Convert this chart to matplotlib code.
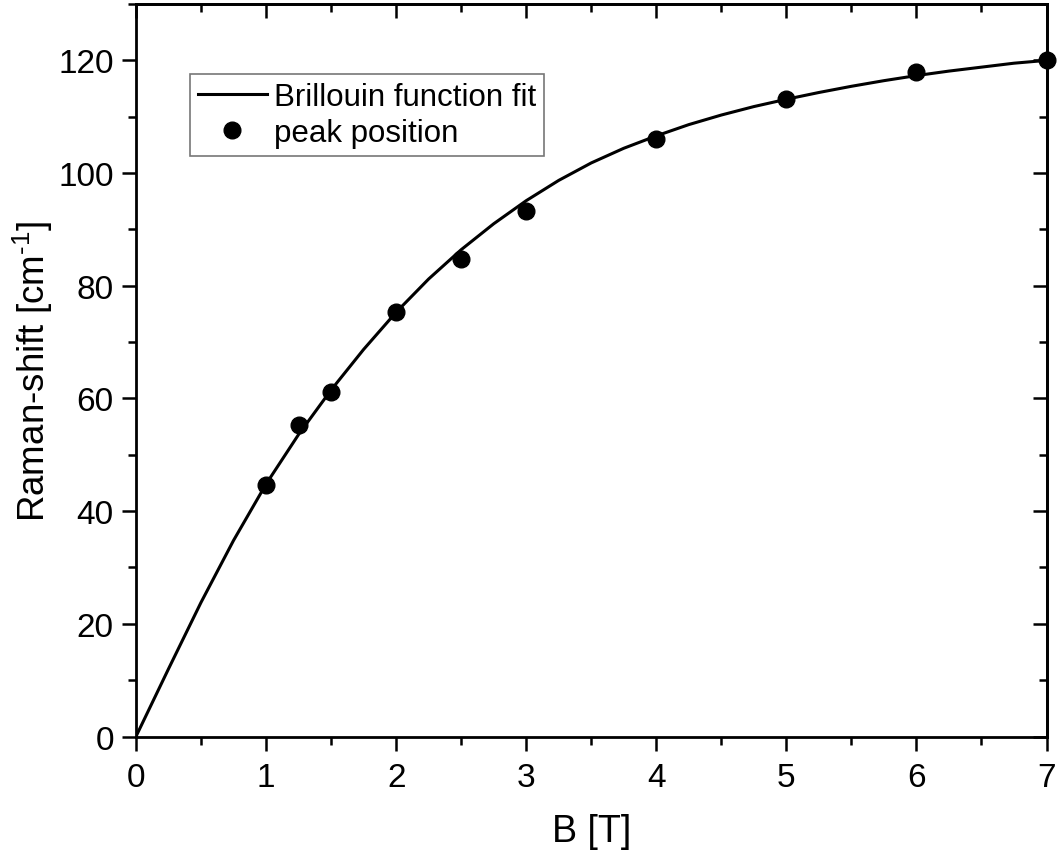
import matplotlib
matplotlib.use("Agg")
import matplotlib.pyplot as plt
from matplotlib.ticker import MultipleLocator

# Fit curve values
fit_B = [0.0, 0.25, 0.5, 0.75, 1.0, 1.25, 1.5, 1.75, 2.0, 2.25, 2.5, 2.75, 3.0,
         3.25, 3.5, 3.75, 4.0, 4.25, 4.5, 4.75, 5.0, 5.25, 5.5, 5.75, 6.0,
         6.25, 6.5, 6.75, 7.0]
fit_shift = [0.0, 12.0, 23.8, 34.8, 44.8, 53.6, 61.5, 68.7, 75.3, 81.2, 86.4,
             91.0, 95.1, 98.7, 101.8, 104.4, 106.6, 108.6, 110.3, 111.8, 113.1,
             114.3, 115.4, 116.4, 117.3, 118.1, 118.8, 119.5, 120.0]

# Measured peak positions
peak_B = [1.0, 1.25, 1.5, 2.0, 2.5, 3.0, 4.0, 5.0, 6.0, 7.0]
peak_shift = [44.7, 55.3, 61.1, 75.4, 84.8, 93.2, 106.1, 113.2, 117.9, 120.1]

plt.rcParams['font.family'] = ['Liberation Sans', 'DejaVu Sans']
plt.rcParams['mathtext.fontset'] = 'custom'
plt.rcParams['mathtext.rm'] = 'Liberation Sans'
plt.rcParams['mathtext.it'] = 'Liberation Sans'

fig = plt.figure(figsize=(10.59, 8.54), dpi=100)
ax = fig.add_axes([0.1284, 0.1364, 0.8598, 0.8577])

ax.plot(fit_B, fit_shift, color='black', lw=2.2, label='Brillouin function fit',
        zorder=2)
ax.plot(peak_B, peak_shift, 'o', color='black', ms=12, label='peak position',
        clip_on=False, zorder=3)

ax.set_xlim(0, 7)
ax.set_ylim(0, 130)
ax.xaxis.set_major_locator(MultipleLocator(1))
ax.xaxis.set_minor_locator(MultipleLocator(0.5))
ax.yaxis.set_major_locator(MultipleLocator(20))
ax.yaxis.set_minor_locator(MultipleLocator(10))

for s in ax.spines.values():
    s.set_linewidth(2)

ax.tick_params(which='both', direction='out', width=1.8, labelsize=24)
ax.tick_params(which='major', length=10)
ax.tick_params(which='minor', length=5.5)
ax.tick_params(axis='x', pad=8)
ax.tick_params(axis='y', pad=6)

# mirrored inward ticks on top and right
top = ax.secondary_xaxis('top')
top.xaxis.set_major_locator(MultipleLocator(1))
top.xaxis.set_minor_locator(MultipleLocator(0.5))
top.tick_params(which='both', direction='in', width=1.8, labeltop=False)
top.tick_params(which='major', length=10)
top.tick_params(which='minor', length=5.5)
top.spines['top'].set_linewidth(2)

right = ax.secondary_yaxis('right')
right.yaxis.set_major_locator(MultipleLocator(20))
right.yaxis.set_minor_locator(MultipleLocator(10))
right.tick_params(which='both', direction='in', width=1.8, labelright=False)
right.tick_params(which='major', length=10)
right.tick_params(which='minor', length=5.5)
right.spines['right'].set_linewidth(2)

ax.set_xlabel('B [T]', fontsize=27, labelpad=15)
ax.set_ylabel(r'Raman-shift [cm$^{\text{-}1}$]', fontsize=26.5, labelpad=2)

leg = ax.legend(loc='upper left', bbox_to_anchor=(0.0593, 0.9044),
                borderaxespad=0, fontsize=22.5, frameon=True, fancybox=False,
                edgecolor='#555555', handlelength=2.2, handletextpad=0.25,
                borderpad=0.25, labelspacing=0.2, numpoints=1)
leg.get_frame().set_linewidth(1.2)

fig.savefig('out.png', dpi=100)
